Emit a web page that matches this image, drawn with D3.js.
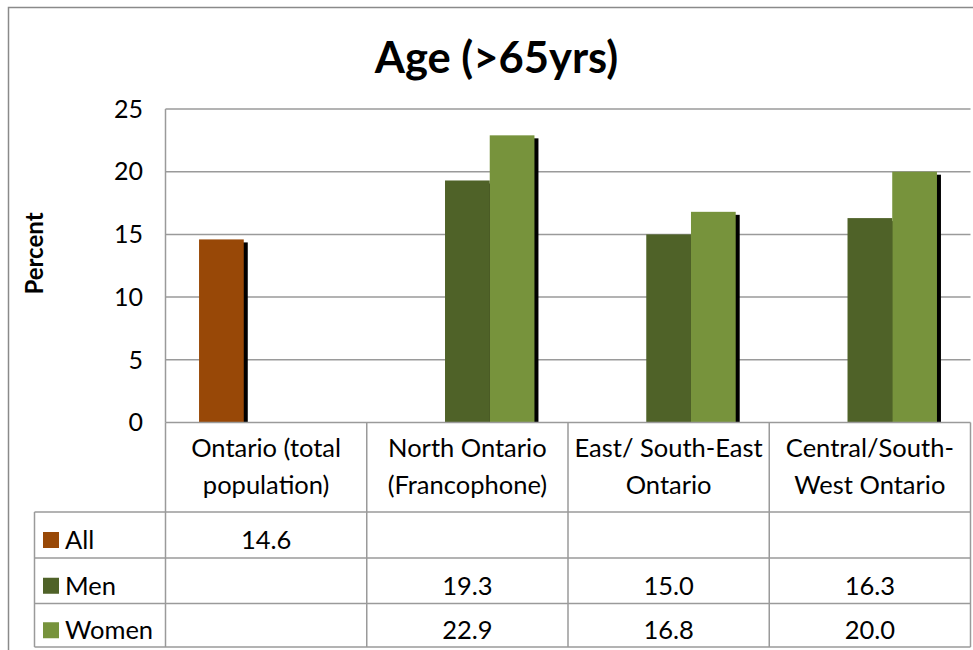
<!DOCTYPE html>
<html>
<head>
<meta charset="utf-8">
<script src="https://cdn.jsdelivr.net/npm/d3@7"></script>
<style>
  body { margin: 0; background: #fff; }
  svg { display: block; font-family: Lato, "Open Sans", sans-serif; }
</style>
</head>
<body>
<svg id="chart" width="973" height="650"></svg>
<script>
// data
const categories = [
  ["Ontario (total", "population)"],
  ["North Ontario", "(Francophone)"],
  ["East/ South-East", "Ontario"],
  ["Central/South-", "West Ontario"]
];
const seriesNames = ["All", "Men", "Women"];
const allValues = [14.6, null, null, null];
const menValues = [null, 19.3, 15.0, 16.3];
const womenValues = [null, 22.9, 16.8, 20.0];
const yTicks = [0, 5, 10, 15, 20, 25];

const colors = { All: "#984807", Men: "#4f6228", Women: "#77933c" };
const seriesValues = { All: allValues, Men: menValues, Women: womenValues };

const svg = d3.select("#chart");

// layout
const plot = { left: 165.5, right: 970.5, top: 109, bottom: 422.5 };
const rowBottoms = [512, 558, 603.5, 647];
const tableLeft = 34.5;
const gridColor = "#9a9a9a";
const fontSize = 25.5;

// outer chart frame (runs off the right/bottom of the picture)
svg.append("rect")
   .attr("x", 8.5).attr("y", 7.5)
   .attr("width", 1000).attr("height", 700)
   .attr("fill", "none")
   .attr("stroke", "#8a8a8a")
   .attr("stroke-width", 1.5);

const x = d3.scaleBand()
            .domain(d3.range(categories.length))
            .range([plot.left, plot.right])
            .padding(0);

const xs = d3.scaleBand()
             .domain(seriesNames)
             .range([0, x.bandwidth()])
             .paddingInner(0)
             .paddingOuter(0.75);

const y = d3.scaleLinear()
            .domain([0, 25])
            .range([plot.bottom, plot.top]);

// gridlines
svg.append("g")
   .selectAll("line")
   .data(yTicks.slice(1))
   .enter().append("line")
   .attr("x1", plot.left).attr("x2", plot.right)
   .attr("y1", d => y(d)).attr("y2", d => y(d))
   .attr("stroke", gridColor)
   .attr("stroke-width", 1.5);

// y axis tick labels
svg.append("g")
   .selectAll("text")
   .data(yTicks)
   .enter().append("text")
   .attr("x", 143)
   .attr("y", d => y(d))
   .attr("dy", "0.35em")
   .attr("text-anchor", "end")
   .attr("font-size", 25)
   .text(d => d);

// bars with shadows
const bars = [];
seriesNames.forEach(s => {
  seriesValues[s].forEach((v, i) => {
    if (v !== null) bars.push({ series: s, cat: i, value: v });
  });
});

svg.append("g")
   .selectAll("rect")
   .data(bars)
   .enter().append("rect")
   .attr("x", d => x(d.cat) + xs(d.series) + 4)
   .attr("y", d => y(d.value) + 3)
   .attr("width", xs.bandwidth())
   .attr("height", d => y(0) - y(d.value) - 3)
   .attr("fill", "#000");

svg.append("g")
   .selectAll("rect")
   .data(bars)
   .enter().append("rect")
   .attr("x", d => x(d.cat) + xs(d.series))
   .attr("y", d => y(d.value))
   .attr("width", xs.bandwidth())
   .attr("height", d => y(0) - y(d.value))
   .attr("fill", d => colors[d.series]);

// data table lines
const table = svg.append("g")
                 .attr("stroke", gridColor)
                 .attr("stroke-width", 1.5);

// plot area left edge
table.append("line")
     .attr("x1", plot.left).attr("x2", plot.left)
     .attr("y1", plot.top).attr("y2", plot.bottom);
table.append("line")
     .attr("x1", plot.left).attr("x2", plot.right)
     .attr("y1", plot.bottom).attr("y2", plot.bottom);
rowBottoms.forEach(r => {
  table.append("line")
       .attr("x1", tableLeft).attr("x2", plot.right)
       .attr("y1", r).attr("y2", r);
});
// vertical lines of the table
d3.range(categories.length + 1).forEach(i => {
  const xx = i < categories.length ? x(i) : plot.right;
  table.append("line")
       .attr("x1", xx).attr("x2", xx)
       .attr("y1", plot.bottom).attr("y2", rowBottoms[3]);
});
table.append("line")
     .attr("x1", tableLeft).attr("x2", tableLeft)
     .attr("y1", rowBottoms[0]).attr("y2", rowBottoms[3]);

// category labels
const catG = svg.append("g")
                .attr("font-size", fontSize)
                .attr("text-anchor", "middle");
categories.forEach((lines, i) => {
  lines.forEach((t, j) => {
    catG.append("text")
        .attr("x", x(i) + x.bandwidth() / 2)
        .attr("y", 457 + j * 37)
        .text(t);
  });
});

// legend keys and values
const rowTops = [rowBottoms[0], rowBottoms[1], rowBottoms[2]];
seriesNames.forEach((s, k) => {
  const mid = (rowTops[k] + rowBottoms[k + 1]) / 2;
  svg.append("rect")
     .attr("x", 43).attr("y", mid - 3)
     .attr("width", 16).attr("height", 16)
     .attr("fill", colors[s]);
  svg.append("text")
     .attr("x", 65)
     .attr("y", mid + 14)
     .attr("font-size", fontSize)
     .text(s);
  seriesValues[s].forEach((v, i) => {
    if (v === null) return;
    svg.append("text")
       .attr("x", x(i) + x.bandwidth() / 2)
       .attr("y", mid + 14)
       .attr("font-size", fontSize)
       .attr("text-anchor", "middle")
       .text(d3.format(".1f")(v));
  });
});

// title
svg.append("text")
   .attr("x", 496.5)
   .attr("y", 73)
   .attr("text-anchor", "middle")
   .attr("font-size", 43.5)
   .attr("font-weight", "bold")
   .text("Age (>65yrs)");

// y axis title
svg.append("text")
   .attr("transform", "translate(43,253.5) rotate(-90)")
   .attr("text-anchor", "middle")
   .attr("font-size", 24)
   .attr("font-weight", "bold")
   .text("Percent");
</script>
</body>
</html>
